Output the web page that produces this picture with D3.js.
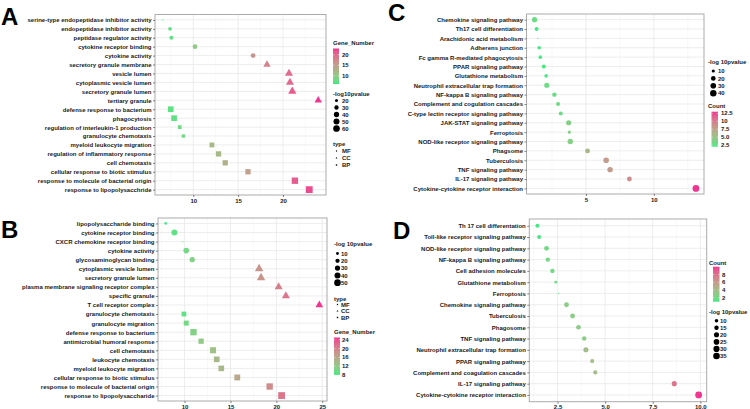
<!DOCTYPE html>
<html><head><meta charset="utf-8">
<script src="https://cdn.jsdelivr.net/npm/d3@7"></script>
<style>
body{margin:0;background:#fff}
text{font-family:'Liberation Sans',Arial,Helvetica,sans-serif;font-weight:bold;fill:#1a1a1a}
</style>
</head><body>
<svg id="c" width="750" height="409"></svg>
<script>
// ---------------- DATA ----------------
// Panel A (GO, Gene_Number colour)
const aTerms = ["serine-type endopeptidase inhibitor activity","endopeptidase inhibitor activity","peptidase regulator activity","cytokine receptor binding","cytokine activity","secretory granule membrane","vesicle lumen","cytoplasmic vesicle lumen","secretory granule lumen","tertiary granule","defense response to bacterium","phagocytosis","regulation of interleukin-1 production","granulocyte chemotaxis","myeloid leukocyte migration","regulation of inflammatory response","cell chemotaxis","cellular response to biotic stimulus","response to molecule of bacterial origin","response to lipopolysacchride"];
const aType  = ["MF","MF","MF","MF","MF","CC","CC","CC","CC","CC","BP","BP","BP","BP","BP","BP","BP","BP","BP","BP"];
const aX     = [6.6,7.41,7.56,10.19,16.67,18.22,20.67,20.78,21.04,23.93,7.49,7.86,8.49,8.89,12.08,12.82,13.56,16.1,21.33,22.93];
const aGene  = [6,7,7,10,16,18,20,20,21,23,7,7,8,8,12,12,13,15,21,22];
const aLogP  = [15,25,26,33,35,42,50,50,52,42,45,45,25,22,35,40,40,40,55,62];
const aXTicks = [10,15,20];
const aSizeBreaks = [20,30,40,50,60];
const aColorBreaks = [10,15,20];

// Panel B
const bTerms = ["lipopolysaccharide binding","cytokine receptor binding","CXCR chemokine receptor binding","cytokine activity","glycosaminoglycan binding","cytoplasmic vesicle lumen","secretory granule lumen","plasma membrane signaling receptor complex","specific granule","T cell receptor complex","granulocyte chemotaxis","granulocyte migration","defense response to bacterium","antimicrobial humoral response","cell chemotaxis","leukocyte chemotaxis","myeloid leukocyte migration","cellular response to biotic stimulus","response to molecule of bacterial origin","response to lipopolysaccharide"];
const bType  = ["MF","MF","MF","MF","MF","CC","CC","CC","CC","CC","BP","BP","BP","BP","BP","BP","BP","BP","BP","BP"];
const bX     = [7.94,8.89,9.82,10.18,10.83,18.12,18.33,20.25,21.04,24.68,9.93,10.18,10.97,11.8,13.1,13.5,14.0,15.74,19.27,20.57];
const bGene  = [8,9,10,10,11,18,18,20,21,25,9,10,11,12,13,14,14,16,19,21];
const bLogP  = [9,40,6,35,30,45,45,40,40,35,25,27,45,30,40,35,35,38,45,52];
const bXTicks = [10,15,20,25];
const bSizeBreaks = [10,20,30,40,50];
const bColorBreaks = [8,12,16,20,24];

// Panel C (KEGG, Count colour)
const cTerms = ["Chemokine signaling pathway","Th17 cell differentiation","Arachidonic acid metabolism","Adherens junction","Fc gamma R-mediated phagocytosis","PPAR signaling pathway","Glutathione metabolism","Neutrophil extracellular trap formation","NF-kappa B signaling pathway","Complement and cogulation cascades","C-type lectin receptor signaling pathway","JAK-STAT signaling pathway","Ferroptosis","NOD-like receptor signaling pathway","Phagsome","Tuberculosis","TNF signaling pathway","IL-17 signaling pathway","Cytokine-cytokine receptor interaction"];
const cX     = [1.22,1.37,1.46,1.56,1.64,1.9,2.07,2.12,2.68,2.95,3.15,3.73,3.78,3.85,5.12,6.49,6.78,8.2,13.1];
const cCount = [3,2,2,2,2,2,2,3,3,3,3,4,4,4,6,8,8,9,13];
const cLogP  = [25,15,5,12,12,15,12,25,18,15,15,25,10,28,22,30,28,22,45];
const cXTicks = [5,10];
const cSizeBreaks = [10,20,30,40];
const cColorBreaks = [2.5,5,7.5,10,12.5];
const cColorLabels = ["2.5","5.0","7.5","10","12.5"];

// Panel D
const dTerms = ["Th 17 cell differentation","Toll-like receptor signaling pathway","NOD-like receptor signaling pathway","NF-kappa B signaling pathway","Cell adhesion molecules","Glutathione metabolism","Ferroptosis","Chemokine signaling pathway","Tuberculosis","Phagosome","TNF signaling pathway","Neutrophil extracellular trap formation","PPAR signaling pathway","Complement and coagulation cascades","IL-17 signaling pathway","Cytokine-cytokine receptor interaction"];
const dX     = [1.44,1.53,1.92,1.99,2.23,2.41,2.55,2.97,3.29,3.6,3.9,3.99,4.32,4.48,8.63,9.91];
const dCount = [1,1,2,2,2,2,2,3,3,3,3,4,4,4,8,10];
const dLogP  = [12,12,18,15,15,7,4,18,18,17,15,20,13,13,20,37];
const dXTicks = [2.5,5,7.5,10];
const dXTickLabels = ["2.5","5.0","7.5","10.0"];
const dSizeBreaks = [10,15,20,25,30,35];
const dColorBreaks = [2,4,6,8];

const typeLevels = ["MF","CC","BP"];

// ---------------- DRAWING ----------------
const LOW = "#45E883", HIGH = "#F0368F";
const svg = d3.select("#c");

function shapePath(type, r) {
  if (type === "CC") {
    const R = 1.555 * r;
    return `M0,${-R}L${R*0.866},${R/2}L${-R*0.866},${R/2}Z`;
  }
  if (type === "BP") return `M${-r},${-r}H${r}V${r}H${-r}Z`;
  return `M${r},0A${r},${r} 0 1 1 ${-r},0A${r},${r} 0 1 1 ${r},0Z`;
}

function sizeFn(ext, rMin, rMax) {
  const t = d3.scaleLinear().domain(ext).range([0, 1]).clamp(true);
  return v => rMin + (rMax - rMin) * Math.sqrt(t(v));
}

function panel(cfg) {
  const g = svg.append("g");
  const {l, r, t, b} = cfg.box;
  const ext = d3.extent(cfg.xs);
  const pad = (ext[1] - ext[0]) * 0.05;
  const x = d3.scaleLinear().domain([ext[0] - pad, ext[1] + pad]).range([l, r]);
  const y = d3.scalePoint().domain(cfg.terms).range([t, b]).padding(0.6);
  const cExt = d3.extent(cfg.colors);
  const col = d3.scaleLinear().domain(cExt).range([LOW, HIGH]).interpolate(d3.interpolateLab);
  const rad = sizeFn(d3.extent(cfg.logp), 0.6, 3.4);

  // grid
  const majors = cfg.xTicks;
  const step = majors[1] - majors[0];
  const minors = [];
  for (let v = majors[0] - step / 2; v <= x.domain()[1]; v += step) if (v >= x.domain()[0]) minors.push(v);
  g.selectAll(".mn").data(minors).join("line")
    .attr("x1", d => x(d)).attr("x2", d => x(d)).attr("y1", t).attr("y2", b)
    .attr("stroke", "#f3f3f3").attr("stroke-width", 0.5);
  g.selectAll(".mj").data(majors).join("line")
    .attr("x1", d => x(d)).attr("x2", d => x(d)).attr("y1", t).attr("y2", b)
    .attr("stroke", "#e8e8e8").attr("stroke-width", 0.8);
  g.selectAll(".hy").data(cfg.terms).join("line")
    .attr("x1", l).attr("x2", r).attr("y1", d => y(d)).attr("y2", d => y(d))
    .attr("stroke", "#e8e8e8").attr("stroke-width", 0.8);

  // points
  g.selectAll(".pt").data(cfg.terms.map((d, i) => i)).join("path")
    .attr("transform", i => `translate(${x(cfg.xs[i])},${y(cfg.terms[i])})`)
    .attr("d", i => shapePath(cfg.types ? cfg.types[i] : "MF", rad(cfg.logp[i])))
    .attr("fill", i => col(cfg.colors[i]));

  // border
  g.append("rect").attr("x", l).attr("y", t).attr("width", r - l).attr("height", b - t)
    .attr("fill", "none").attr("stroke", "#ababab").attr("stroke-width", 1);

  // axes
  const ya = g.append("g").attr("transform", `translate(${l},0)`)
    .call(d3.axisLeft(y).tickSize(2).tickPadding(1.5));
  ya.select(".domain").remove();
  ya.selectAll("line").attr("stroke", "#333").attr("stroke-width", 0.6);
  ya.selectAll("text").attr("font-size", 6).attr("fill", "#1a1a1a")
    .style("font-family", "'Liberation Sans',Arial,sans-serif").style("font-weight", "bold");

  const xa = g.append("g").attr("transform", `translate(0,${b})`)
    .call(d3.axisBottom(x).tickValues(cfg.xTicks).tickSize(2).tickPadding(1.5)
      .tickFormat((d, i) => cfg.xTickLabels ? cfg.xTickLabels[i] : d));
  xa.select(".domain").remove();
  xa.selectAll("line").attr("stroke", "#333").attr("stroke-width", 0.6);
  xa.selectAll("text").attr("font-size", 6).attr("fill", "#1a1a1a")
    .style("font-family", "'Liberation Sans',Arial,sans-serif").style("font-weight", "bold");

  // panel letter
  svg.append("text").attr("x", cfg.letter[1]).attr("y", cfg.letter[2])
    .attr("font-size", 24).style("fill", "#000").text(cfg.letter[0]);

  // legends
  cfg.legends.forEach(L => {
    if (L.kind === "color") {
      g.append("text").attr("x", L.x).attr("y", L.ty).attr("font-size", 6).text(L.title);
      const gradId = "grad" + Math.random().toString(36).slice(2);
      const gr = svg.append("defs").append("linearGradient").attr("id", gradId)
        .attr("x1", 0).attr("y1", 1).attr("x2", 0).attr("y2", 0);
      d3.range(0, 1.01, 0.1).forEach(s => gr.append("stop").attr("offset", s)
        .attr("stop-color", col(cExt[0] + s * (cExt[1] - cExt[0]))));
      g.append("rect").attr("x", L.bx).attr("y", L.top).attr("width", L.w).attr("height", L.bottom - L.top)
        .attr("fill", `url(#${gradId})`);
      const cy = d3.scaleLinear().domain(cExt).range([L.bottom, L.top]);
      L.breaks.forEach((v, i) => {
        g.append("line").attr("x1", L.bx).attr("x2", L.bx + 1.3).attr("y1", cy(v)).attr("y2", cy(v)).attr("stroke", "#fff").attr("stroke-width", 0.5);
        g.append("line").attr("x1", L.bx + L.w - 1.3).attr("x2", L.bx + L.w).attr("y1", cy(v)).attr("y2", cy(v)).attr("stroke", "#fff").attr("stroke-width", 0.5);
        g.append("text").attr("x", L.lx).attr("y", cy(v)).attr("dy", "0.35em").attr("font-size", 6)
          .text(L.labels ? L.labels[i] : v);
      });
    } else if (L.kind === "size") {
      g.append("text").attr("x", L.x).attr("y", L.ty).attr("font-size", 6).text(L.title);
      L.breaks.forEach((v, i) => {
        const yy = L.y0 + i * L.step;
        g.append("circle").attr("cx", L.dx).attr("cy", yy).attr("r", rad(v)).attr("fill", "#000");
        g.append("text").attr("x", L.lx).attr("y", yy).attr("dy", "0.35em").attr("font-size", 6).text(v);
      });
    } else if (L.kind === "type") {
      g.append("text").attr("x", L.x).attr("y", L.ty).attr("font-size", 6).text(L.title);
      typeLevels.forEach((v, i) => {
        const yy = L.y0 + i * L.step;
        g.append("path").attr("transform", `translate(${L.dx},${yy})`).attr("d", shapePath(v, 0.7)).attr("fill", "#000");
        g.append("text").attr("x", L.lx).attr("y", yy).attr("dy", "0.35em").attr("font-size", 6).text(v);
      });
    }
  });
}

panel({
  terms: aTerms, xs: aX, colors: aGene, logp: aLogP, types: aType, xTicks: aXTicks,
  box: {l: 155, r: 326, t: 14.5, b: 195}, letter: ["A", 1, 25],
  legends: [
    {kind: "color", title: "Gene_Number", x: 333, ty: 45, bx: 333, w: 6, top: 48.5, bottom: 84, lx: 342, breaks: aColorBreaks},
    {kind: "size", title: "-log10pvalue", x: 333, ty: 96, y0: 100.5, step: 7, dx: 336.5, lx: 342, breaks: aSizeBreaks},
    {kind: "type", title: "type", x: 333, ty: 146, y0: 151, step: 7, dx: 336.5, lx: 342}
  ]
});
panel({
  terms: bTerms, xs: bX, colors: bGene, logp: bLogP, types: bType, xTicks: bXTicks,
  box: {l: 158, r: 327, t: 218, b: 401}, letter: ["B", 1, 238],
  legends: [
    {kind: "size", title: "-log 10pvalue", x: 334, ty: 246, y0: 253.5, step: 7.3, dx: 337.5, lx: 341, breaks: bSizeBreaks},
    {kind: "type", title: "type", x: 334, ty: 301, y0: 304.5, step: 6.5, dx: 337.5, lx: 341},
    {kind: "color", title: "Gene_Number", x: 334, ty: 334, bx: 334, w: 6, top: 337.5, bottom: 375, lx: 342, breaks: bColorBreaks}
  ]
});
panel({
  terms: cTerms, xs: cX, colors: cCount, logp: cLogP, xTicks: cXTicks,
  box: {l: 526.5, r: 704, t: 14, b: 194}, letter: ["C", 388, 21],
  legends: [
    {kind: "size", title: "-log 10pvalue", x: 708, ty: 63.5, y0: 71, step: 7.4, dx: 713.3, lx: 718, breaks: cSizeBreaks},
    {kind: "color", title: "Count", x: 708, ty: 107.5, bx: 711.5, w: 6.5, top: 111.7, bottom: 146.7, lx: 721, breaks: cColorBreaks, labels: cColorLabels}
  ]
});
panel({
  terms: dTerms, xs: dX, colors: dCount, logp: dLogP, xTicks: dXTicks, xTickLabels: dXTickLabels,
  box: {l: 529.3, r: 706.7, t: 219, b: 401.7}, letter: ["D", 393, 239],
  legends: [
    {kind: "color", title: "Count", x: 709, ty: 265, bx: 713, w: 6.5, top: 266.7, bottom: 301.7, lx: 722, breaks: dColorBreaks},
    {kind: "size", title: "-log 10pvalue", x: 709, ty: 313.5, y0: 320.7, step: 7.06, dx: 716.5, lx: 720, breaks: dSizeBreaks}
  ]
});
</script>
</body></html>
